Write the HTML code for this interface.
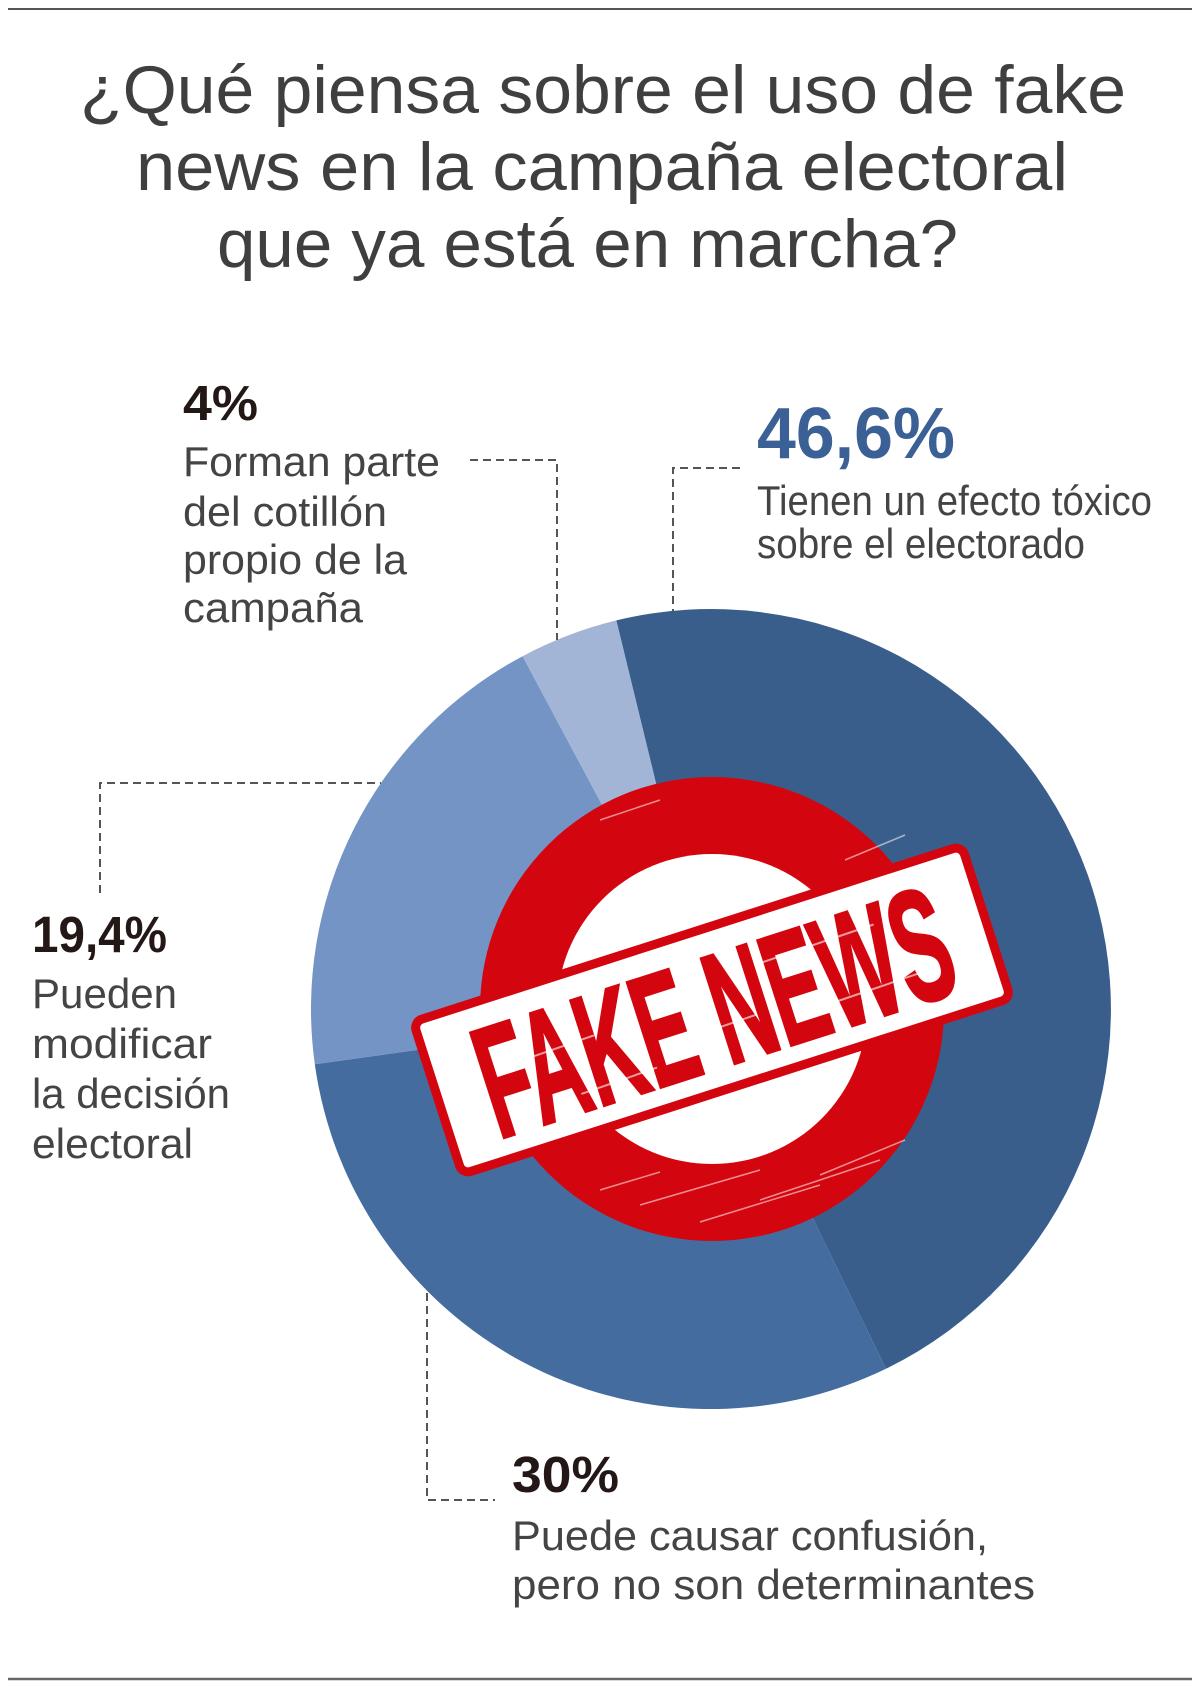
<!DOCTYPE html>
<html>
<head>
<meta charset="utf-8">
<style>
  html,body{margin:0;padding:0;background:#fff;}
  svg{display:block;}
  text{font-family:"Liberation Sans", Arial, sans-serif;}
</style>
</head>
<body>
<svg width="1200" height="1688" viewBox="0 0 1200 1688" xmlns="http://www.w3.org/2000/svg">
  <rect width="1200" height="1688" fill="#fff"/>
  <!-- top and bottom rules -->
  <line x1="8" y1="9" x2="1192" y2="9" stroke="#555" stroke-width="2"/>
  <line x1="8" y1="1679" x2="1192" y2="1679" stroke="#666" stroke-width="2.5"/>

  <!-- Title -->
  <g fill="#3f3f3f" font-size="68">
    <text x="80" y="113" textLength="1046" lengthAdjust="spacingAndGlyphs">¿Qué piensa sobre el uso de fake</text>
    <text x="136" y="190" textLength="932" lengthAdjust="spacingAndGlyphs">news en la campaña electoral</text>
    <text x="217" y="267" textLength="741" lengthAdjust="spacingAndGlyphs">que ya está en marcha?</text>
  </g>

  <!-- Pie -->
  <path d="M711,1009 L616.3,620.4 A400,400 0 0 1 886.0,1368.7 Z" fill="#3a5e8c"/>
  <path d="M711,1009 L886.0,1368.7 A400,400 0 0 1 314.8,1064.2 Z" fill="#456c9f"/>
  <path d="M711,1009 L314.8,1064.2 A400,400 0 0 1 522.6,656.2 Z" fill="#7394c4"/>
  <path d="M711,1009 L522.6,656.2 A400,400 0 0 1 616.3,620.4 Z" fill="#a3b5d6"/>

  <!-- Stamp ring -->
  <circle cx="712" cy="1009" r="232" fill="#d3060f"/>
  <circle cx="712" cy="1009" r="155" fill="#fff"/>
  <!-- distress streaks on ring -->
  <g stroke="#fff" stroke-width="1.5" opacity="0.55" fill="none">
    <line x1="640" y1="1205" x2="760" y2="1170"/>
    <line x1="700" y1="1222" x2="820" y2="1185"/>
    <line x1="760" y1="1200" x2="880" y2="1160"/>
    <line x1="820" y1="1175" x2="905" y2="1140"/>
    <line x1="600" y1="1190" x2="660" y2="1172"/>
    <line x1="845" y1="860" x2="905" y2="835"/>
    <line x1="600" y1="820" x2="660" y2="800"/>
  </g>

  <!-- Banner -->
  <g transform="translate(712,1010) rotate(-17.8)">
    <rect x="-288" y="-80" width="576" height="160" rx="9" ry="9" fill="#fff" stroke="#d3060f" stroke-width="9"/>
    <text x="-243" y="58" font-size="160" font-weight="bold" fill="#d3060f" stroke="#d3060f" stroke-width="3" textLength="489" lengthAdjust="spacingAndGlyphs">FAKE NEWS</text>
    <g stroke="#fff" stroke-width="2" opacity="0.6">
      <line x1="-200" y1="-10" x2="-120" y2="-12"/>
      <line x1="-60" y1="20" x2="40" y2="18"/>
      <line x1="60" y1="-30" x2="180" y2="-32"/>
      <line x1="120" y1="30" x2="230" y2="28"/>
      <line x1="-150" y1="40" x2="-70" y2="38"/>
    </g>
  </g>

  <!-- Dashed leader lines -->
  <g stroke="#555" stroke-width="2" stroke-dasharray="8 5" fill="none">
    <!-- 4% -->
    <polyline points="470,460 557,460 557,640"/>
    <!-- 46,6% -->
    <polyline points="740,468 673,468 673,611"/>
    <!-- 19,4% -->
    <polyline points="100,893 100,783 381,783"/>
    <!-- 30% -->
    <polyline points="427,1293 427,1500 495,1500"/>
  </g>

  <!-- 4% label -->
  <text x="183" y="420" font-size="49" font-weight="bold" fill="#231815" textLength="75" lengthAdjust="spacingAndGlyphs">4%</text>
  <g fill="#444" font-size="42">
    <text x="183" y="476" textLength="257" lengthAdjust="spacingAndGlyphs">Forman parte</text>
    <text x="183" y="526" textLength="204" lengthAdjust="spacingAndGlyphs">del cotillón</text>
    <text x="183" y="574" textLength="224" lengthAdjust="spacingAndGlyphs">propio de la</text>
    <text x="183" y="622" textLength="180" lengthAdjust="spacingAndGlyphs">campaña</text>
  </g>

  <!-- 46,6% label -->
  <text x="757" y="458" font-size="72" font-weight="bold" fill="#3b6096" textLength="198" lengthAdjust="spacingAndGlyphs">46,6%</text>
  <g fill="#444" font-size="42">
    <text x="757" y="515" textLength="395" lengthAdjust="spacingAndGlyphs">Tienen un efecto tóxico</text>
    <text x="757" y="558" textLength="328" lengthAdjust="spacingAndGlyphs">sobre el electorado</text>
  </g>

  <!-- 19,4% label -->
  <text x="32" y="952" font-size="51" font-weight="bold" fill="#231815" textLength="135" lengthAdjust="spacingAndGlyphs">19,4%</text>
  <g fill="#444" font-size="42">
    <text x="32" y="1008" textLength="145" lengthAdjust="spacingAndGlyphs">Pueden</text>
    <text x="32" y="1058" textLength="180" lengthAdjust="spacingAndGlyphs">modificar</text>
    <text x="32" y="1108" textLength="198" lengthAdjust="spacingAndGlyphs">la decisión</text>
    <text x="32" y="1158" textLength="161" lengthAdjust="spacingAndGlyphs">electoral</text>
  </g>

  <!-- 30% label -->
  <text x="512" y="1492" font-size="51" font-weight="bold" fill="#231815" textLength="107" lengthAdjust="spacingAndGlyphs">30%</text>
  <g fill="#444" font-size="42">
    <text x="512" y="1550" textLength="476" lengthAdjust="spacingAndGlyphs">Puede causar confusión,</text>
    <text x="512" y="1599" textLength="523" lengthAdjust="spacingAndGlyphs">pero no son determinantes</text>
  </g>
</svg>
</body>
</html>
